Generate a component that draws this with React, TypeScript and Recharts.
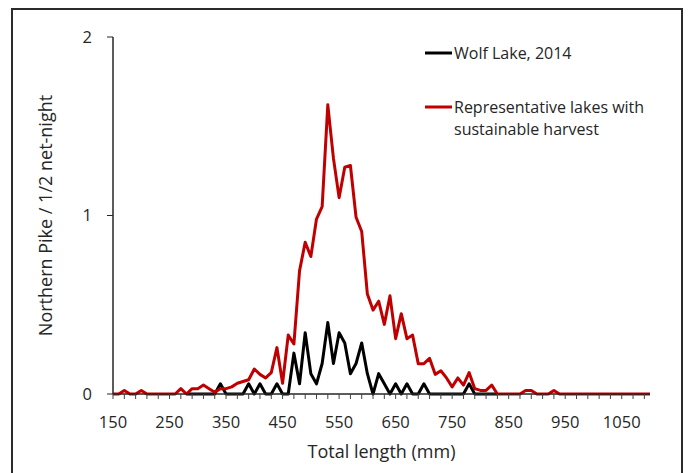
import React from 'react';
import { LineChart, Line, XAxis, YAxis, Legend } from 'recharts';

// Total length categories (mm)
const lengths = [
  150, 160, 170, 180, 190, 200, 210, 220, 230, 240, 250, 260, 270, 280, 290, 300, 310, 320, 330, 340,
  350, 360, 370, 380, 390, 400, 410, 420, 430, 440, 450, 460, 470, 480, 490, 500, 510, 520, 530, 540,
  550, 560, 570, 580, 590, 600, 610, 620, 630, 640, 650, 660, 670, 680, 690, 700, 710, 720, 730, 740,
  750, 760, 770, 780, 790, 800, 810, 820, 830, 840, 850, 860, 870, 880, 890, 900, 910, 920, 930, 940,
  950, 960, 970, 980, 990, 1000, 1010, 1020, 1030, 1040, 1050, 1060, 1070, 1080, 1090, 1100,
];

// Representative lakes with sustainable harvest
const representative = [
  0, 0, 0.02, 0, 0, 0.02, 0, 0, 0, 0, 0, 0, 0.03, 0, 0.03, 0.03, 0.05, 0.03, 0.01, 0.03,
  0.03, 0.04, 0.06, 0.07, 0.08, 0.14, 0.11, 0.09, 0.12, 0.26, 0.06, 0.33, 0.28, 0.69, 0.85, 0.77, 0.98, 1.05, 1.62, 1.32,
  1.1, 1.27, 1.28, 0.99, 0.91, 0.56, 0.47, 0.52, 0.39, 0.55, 0.31, 0.45, 0.31, 0.33, 0.17, 0.17, 0.2, 0.11, 0.13, 0.09,
  0.04, 0.09, 0.05, 0.12, 0.03, 0.02, 0.02, 0.05, 0, 0, 0, 0, 0, 0.02, 0.02, 0, 0, 0, 0.02, 0,
  0, 0, 0, 0, 0, 0, 0, 0, 0, 0, 0, 0, 0, 0, 0, 0,
];

// Wolf Lake, 2014
const wolfLake = [
  null, null, null, null, null, null, null, null, null, null, null, null, null, 0, 0, 0, 0, 0, 0, 0.057,
  0, 0, 0, 0, 0.057, 0, 0.057, 0, 0, 0.057, 0, 0, 0.229, 0.057, 0.343, 0.114, 0.057, 0.171, 0.4, 0.171,
  0.343, 0.286, 0.114, 0.171, 0.286, 0.114, 0, 0.114, 0.057, 0, 0.057, 0, 0.057, 0, 0, 0.057, 0, 0, 0, 0,
  0, 0, 0, 0.057, 0, 0, 0, 0, 0, null, null, null, null, null, null, null, null, null, null, null,
  null, null, null, null, null, null, null, null, null, null, null, null, null, null, null, null,
];

const xTicks = [
  150, 170, 190, 210, 230, 250, 270, 290, 310, 330, 350, 370, 390, 410, 430, 450, 470, 490, 510, 530,
  550, 570, 590, 610, 630, 650, 670, 690, 710, 730, 750, 770, 790, 810, 830, 850, 870, 890, 910, 930,
  950, 970, 990, 1010, 1030, 1050, 1070, 1090,
];
const xLabels = [150, 250, 350, 450, 550, 650, 750, 850, 950, 1050];
const yTicks = [0, 1, 2];

const seriesNames = ['Wolf Lake, 2014', 'Representative lakes with sustainable harvest'];

const data = lengths.map((mm, i) => ({
  mm,
  wolf: wolfLake[i],
  rep: representative[i],
}));

const FONT = "'Open Sans', sans-serif";
const TEXT = '#262626';

const XTick = (props: any) => {
  const { x, y, payload } = props;
  if (!xLabels.includes(payload.value)) return <g />;
  return (
    <text x={x} y={y} dy={27} textAnchor="middle" fontSize={16.5} fill={TEXT} fontFamily={FONT}>
      {payload.value}
    </text>
  );
};

const YTitle = (props: any) => {
  const vb = props.viewBox || {};
  const cx = 45;
  const cy = vb.y + vb.height / 2;
  return (
    <text
      x={cx}
      y={cy}
      transform={`rotate(-90, ${cx}, ${cy})`}
      textAnchor="middle"
      dominantBaseline="central"
      fontSize={18}
      fill={TEXT}
      fontFamily={FONT}
    >
      Northern Pike / 1/2 net-night
    </text>
  );
};

const wrap = (s: string, max: number) => {
  const words = s.split(' ');
  const lines: string[] = [];
  let cur = '';
  words.forEach((w) => {
    const next = cur ? cur + ' ' + w : w;
    if (next.length > max && cur) {
      lines.push(cur);
      cur = w;
    } else cur = next;
  });
  if (cur) lines.push(cur);
  return lines;
};

const LegendContent = (props: any) => {
  const payload = props.payload || [];
  const ordered = seriesNames
    .map((n) => payload.find((p: any) => p.value === n))
    .filter(Boolean);
  const rowsY = [23, 77];
  return (
    <svg width={260} height={120} style={{ display: 'block' }}>
      {ordered.map((p: any, i: number) => {
        const yy = rowsY[i];
        const lines = wrap(String(p.value), 26);
        return (
          <g key={i}>
            <line x1={5} x2={32} y1={yy} y2={yy} stroke={p.color} strokeWidth={3} />
            {lines.map((ln, j) => (
              <text
                key={j}
                x={34}
                y={yy + j * 22}
                dominantBaseline="central"
                fontSize={16}
                fill={TEXT}
                fontFamily={FONT}
              >
                {ln}
              </text>
            ))}
          </g>
        );
      })}
    </svg>
  );
};

export default function App() {
  return (
    <div style={{ position: 'absolute', left: 0, top: 0, width: 689, height: 473, overflow: 'hidden', background: '#fff' }}>
      <div
        style={{
          position: 'absolute',
          left: 11,
          top: 8,
          width: 672,
          height: 490,
          border: '2px solid #2b2b2b',
          boxSizing: 'border-box',
        }}
      />
      <div style={{ position: 'absolute', left: 0, top: 0 }}>
        <LineChart
          width={689}
          height={473}
          data={data}
          margin={{ top: 37, right: 39, bottom: 49, left: 0 }}
          style={{ fontFamily: FONT }}
        >
          <XAxis
            dataKey="mm"
            type="number"
            domain={[150, 1100]}
            ticks={xTicks}
            interval={0}
            height={30}
            tick={<XTick />}
            tickSize={5}
            tickMargin={2}
            stroke="#404040"
            tickLine={{ stroke: '#404040' }}
            axisLine={{ stroke: '#262626', strokeWidth: 1.5 }}
            label={{ value: 'Total length (mm)', position: 'bottom', offset: 21, fontSize: 18, fill: TEXT, fontFamily: FONT }}
          />
          <YAxis
            type="number"
            domain={[0, 2]}
            ticks={yTicks}
            width={113}
            tickSize={6}
            tickMargin={15}
            stroke="#262626"
            tick={{ fontSize: 16.5, fill: TEXT, fontFamily: FONT }}
            axisLine={{ stroke: '#262626', strokeWidth: 1.5 }}
            tickLine={{ stroke: '#262626' }}
            label={{ content: <YTitle /> }}
          />
          <Legend
            layout="vertical"
            verticalAlign="middle"
            align="center"
            content={<LegendContent />}
            wrapperStyle={{ position: 'absolute', left: 420, top: 30, width: 260, height: 120 }}
          />
          <Line
            dataKey="wolf"
            name={seriesNames[0]}
            stroke="#000000"
            strokeWidth={3}
            dot={false}
            type="linear"
            strokeLinejoin="round"
            isAnimationActive={false}
          />
          <Line
            dataKey="rep"
            name={seriesNames[1]}
            stroke="#C00000"
            strokeWidth={3}
            dot={false}
            type="linear"
            strokeLinejoin="round"
            isAnimationActive={false}
          />
        </LineChart>
      </div>
    </div>
  );
}
